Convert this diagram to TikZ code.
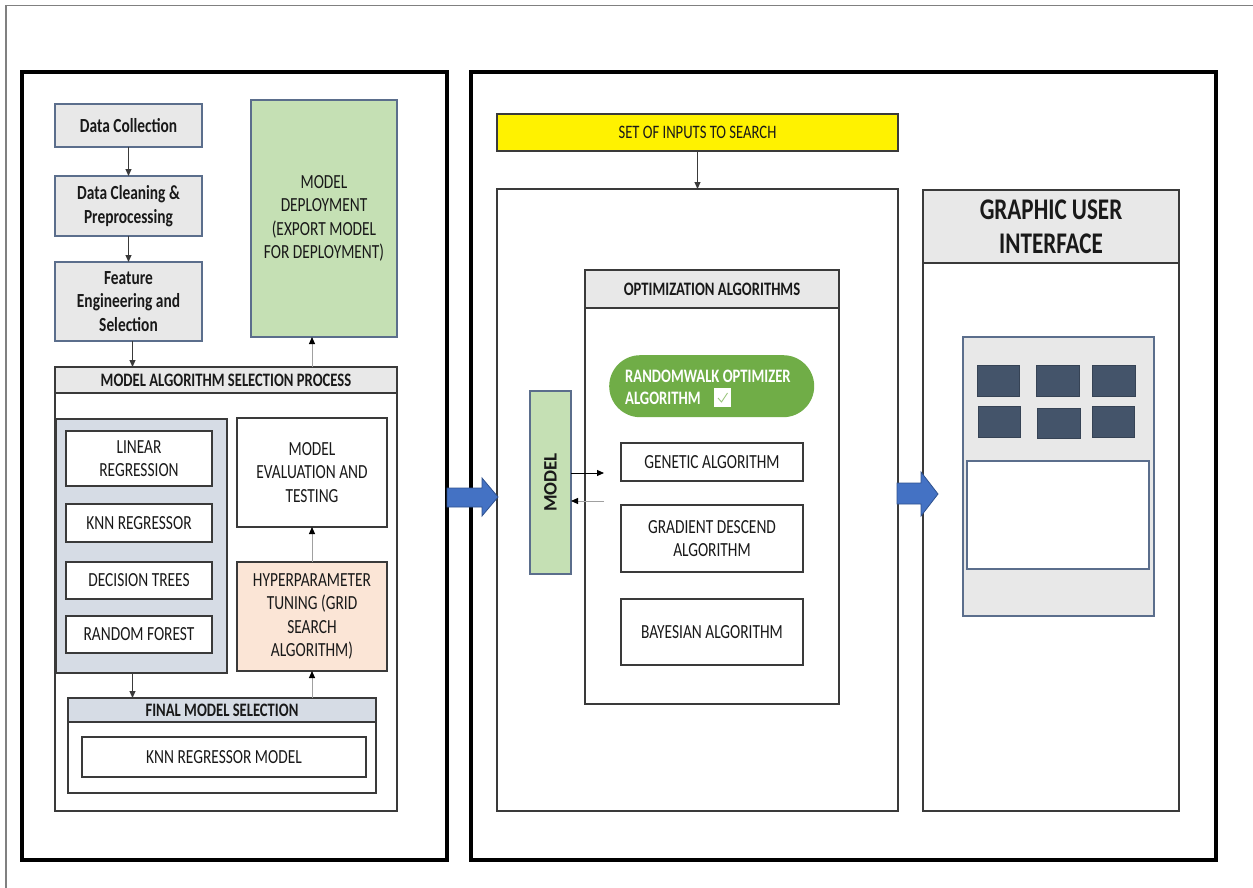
\documentclass[tikz,border=0pt]{standalone}
\usepackage{fontspec}
\setmainfont[FakeStretch=0.77]{Carlito}
\newfontfamily\uprightlabel{Carlito}
\usetikzlibrary{arrows.meta}

\definecolor{edge}{HTML}{3A3A3A}
\definecolor{slate}{HTML}{5B6E8C}
\definecolor{paper}{HTML}{E8E8E8}
\definecolor{leaf}{HTML}{C5E0B4}
\definecolor{mist}{HTML}{D6DCE5}
\definecolor{peach}{HTML}{FBE5D6}
\definecolor{grass}{HTML}{70AD47}
\definecolor{tile}{HTML}{44546A}
\definecolor{flow}{HTML}{4472C4}
\definecolor{flowedge}{HTML}{2F528F}
\definecolor{wire}{HTML}{A0A0A0}

% rectangle node given by its top-left and bottom-right corners (pixel grid)
\newcommand\rectat[7]{%
  \node[#1,anchor=north west,outer sep=0pt,
        minimum width={(#5-#3)*1pt},minimum height={(#6-#4)*1pt}]
        (#2) at (#3,#4) {#7};}

\begin{document}
\begin{tikzpicture}[x=1pt,y=-1pt,
  txt/.style={font=\fontsize{20}{23.5}\selectfont,text=black!90,align=center},
  bigframe/.style={draw=black,line width=3.5pt,fill=white,inner sep=0pt},
  plain/.style={txt,draw=edge,line width=1.3pt,fill=white,inner sep=0pt},
  greybox/.style={txt,font=\fontsize{20}{23.5}\selectfont\bfseries,draw=slate,line width=1.4pt,fill=paper,inner sep=0pt},
  head/.style={plain,fill=paper,font=\fontsize{19}{22}\selectfont\bfseries},
  arr/.style={draw=edge,line width=1pt,-{Triangle[length=7pt,width=6pt]}},
  garr/.style={draw=wire,line width=1pt,-{Triangle[length=7pt,width=6pt,color=black]}},
  blockarrow/.style={fill=flow,draw=flowedge,line width=0.8pt},
  tilebox/.style={fill=tile,draw=tile!80!black,line width=0.8pt,inner sep=0pt},
]
\useasboundingbox (0,0) rectangle (1253,888);

% page rule
\draw[gray,line width=1.5pt] (6,888) -- (6,5.5) -- (1253,5.5);

% ---------- left panel: model building ----------
\rectat{bigframe}{leftframe}{22}{72}{447}{860}{}

\rectat{greybox}{dc}{55}{104}{202}{147}{Data Collection}
\rectat{greybox}{clean}{55}{176}{202}{236}{Data Cleaning \&\\Preprocessing}
\rectat{greybox}{feat}{55}{262}{202}{341}{Feature\\Engineering and\\Selection}
\rectat{plain,draw=slate,line width=1.4pt,fill=leaf}{deploy}{251}{100}{397}{337}{MODEL\\DEPLOYMENT\\(EXPORT MODEL\\FOR DEPLOYMENT)}

\rectat{plain}{masp}{55}{367}{397}{811}{}
\rectat{head}{masphead}{55}{367}{397}{393}{MODEL ALGORITHM SELECTION PROCESS}

\rectat{plain,fill=mist}{panel}{56}{419}{227}{673}{}
\rectat{plain}{lr}{66}{431}{212}{486}{LINEAR\\REGRESSION}
\rectat{plain}{knn}{66}{504}{212}{542}{KNN REGRESSOR}
\rectat{plain}{dt}{66}{562}{212}{599}{DECISION TREES}
\rectat{plain}{rf}{66}{616}{212}{653}{RANDOM FOREST}

\rectat{plain}{eval}{237}{418}{387}{527}{MODEL\\EVALUATION AND\\TESTING}
\rectat{plain,fill=peach}{hp}{237}{562}{387}{671}{HYPERPARAMETER\\TUNING (GRID\\SEARCH\\ALGORITHM)}

\rectat{plain}{final}{68}{698}{376}{793}{}
\rectat{head,fill=mist}{finalhead}{68}{698}{376}{722}{FINAL MODEL SELECTION}
\rectat{plain}{knnm}{82}{737}{366}{777}{KNN REGRESSOR MODEL}

\draw[arr] (dc) -- (clean);
\draw[arr] (clean) -- (feat);
\draw[arr] ([xshift=4pt]feat.south) -- ([xshift=4pt]feat.south |- masphead.north);
\draw[garr] (hp.north |- masphead.north) -- (hp.north |- deploy.south);
\draw[garr] (hp) -- (eval);
\draw[arr] ([xshift=-9pt]panel.south) -- ([xshift=-9pt]panel.south |- finalhead.north);
\draw[garr] (hp.south |- finalhead.north) -- (hp.south);

% ---------- right panel: search and interface ----------
\rectat{bigframe}{rightframe}{471}{72}{1216}{860}{}

\rectat{plain,fill=yellow,font=\fontsize{19}{22}\selectfont}{inputs}{497}{114}{898}{151}{SET OF INPUTS TO SEARCH}
\rectat{plain}{search}{497}{189}{898}{811}{}
\draw[arr] (inputs) -- (inputs.south |- search.north);

\rectat{plain}{opt}{585}{270}{839}{704}{}
\rectat{head}{opthead}{585}{270}{839}{308}{OPTIMIZATION ALGORITHMS}

\node[fill=grass,rounded corners=31pt,minimum width=205pt,minimum height=62pt,
      anchor=north west,inner sep=0pt] (rw) at (609,355) {};
\node[txt,text=white,font=\fontsize{19}{22}\selectfont\bfseries,anchor=base west,inner sep=0pt]
      (rwa) at (625,382) {RANDOMWALK OPTIMIZER};
\node[txt,text=white,font=\fontsize{19}{22}\selectfont\bfseries,anchor=base west,inner sep=0pt]
      (rwb) at (625,404) {ALGORITHM};
\rectat{fill=white,inner sep=0pt}{tick}{714}{388}{731}{407}{}
\draw[grass!70!white,line width=0.9pt] ([shift={(4pt,-10pt)}]tick.north west)
  -- ([shift={(7.5pt,-14pt)}]tick.north west) -- ([shift={(13.5pt,-5pt)}]tick.north west);

\rectat{plain}{ga}{621}{443}{803}{481}{GENETIC ALGORITHM}
\rectat{plain}{gd}{621}{505}{803}{572}{GRADIENT DESCEND\\ALGORITHM}
\rectat{plain}{ba}{621}{599}{803}{665}{BAYESIAN ALGORITHM}

\rectat{plain,draw=slate,line width=1.2pt,fill=leaf}{model}{530}{391}{571}{574}{}
\node[text=black!90,font=\uprightlabel\fontsize{19}{22}\selectfont\bfseries,rotate=90] (modeltxt) at (model) {MODEL};
\coordinate (gout) at (604,473);
\coordinate (gin) at (604,501);
\draw[arr,draw=black] (model.east |- gout) -- (gout);
\draw[garr] (gin) -- (model.east |- gin);

% graphic user interface
\rectat{plain}{gui}{923}{190}{1179}{811}{}
\rectat{plain,fill=paper,font=\fontsize{30}{34}\selectfont\bfseries}{guihead}{923}{190}{1179}{263}{GRAPHIC USER\\INTERFACE}
\rectat{fill=paper,draw=slate,line width=1.2pt,inner sep=0pt}{screen}{963}{337}{1154}{616}{}
\rectat{tilebox}{t1}{977}{365}{1019}{396}{}
\rectat{tilebox}{t2}{1036}{365}{1079}{396}{}
\rectat{tilebox}{t3}{1092}{365}{1135}{396}{}
\rectat{tilebox}{t4}{978}{406}{1020}{437}{}
\rectat{tilebox}{t5}{1037}{408}{1080}{438}{}
\rectat{tilebox}{t6}{1092}{406}{1134}{437}{}
\rectat{fill=white,draw=slate,line width=1.2pt,inner sep=0pt}{pane}{967}{461}{1149}{569}{}

% block arrows between stages
\draw[blockarrow] (447,488) -- (482,488) -- (482,478) -- (498,497) -- (482,516)
  -- (482,507) -- (447,507) -- cycle;
\draw[blockarrow] (897,483) -- (921,483) -- (921,472) -- (938,494) -- (921,516)
  -- (921,504) -- (897,504) -- cycle;
\end{tikzpicture}
\end{document}
